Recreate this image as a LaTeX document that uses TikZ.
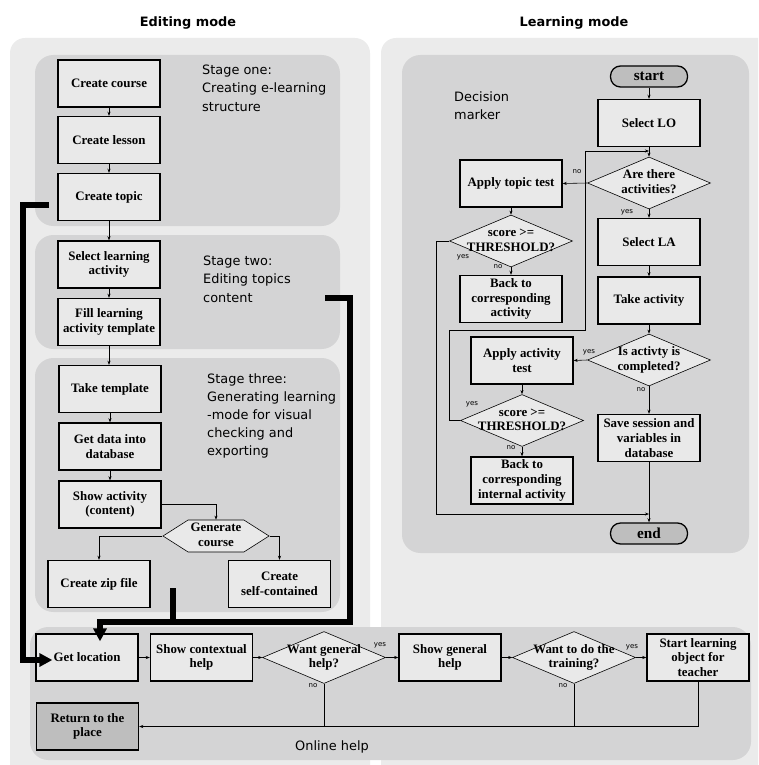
\documentclass[tikz,border=0pt]{standalone}
\usepackage{fontspec}
\setmainfont{Liberation Serif}
\newfontfamily\comicfont{DejaVu Sans}
\usetikzlibrary{shapes.geometric,shapes.symbols,arrows.meta,calc}

\definecolor{outergray}{RGB}{235,235,235}
\definecolor{innergray}{RGB}{212,212,213}
\definecolor{boxgray}{RGB}{233,233,233}
\definecolor{termgray}{RGB}{190,190,190}

% text of a decision that may run over the outline
\newcommand{\dtxt}[1]{\makebox[0pt]{\begin{tabular}{@{}c@{}}#1\end{tabular}}}

\begin{document}
\begin{tikzpicture}[x=0.03cm,y=-0.03cm]
\tikzstyle{process}=[draw, line width=1.1pt, fill=boxgray, minimum width=3.06cm, minimum height=1.41cm, inner sep=1pt, align=center, font=\fontsize{11}{12.5}\selectfont\bfseries]
\tikzstyle{returnbox}=[process, fill=termgray]
\tikzstyle{decision}=[draw, diamond, aspect=2.4, line width=0.5pt, fill=boxgray, minimum width=3.69cm, minimum height=1.56cm, inner sep=0pt, font=\fontsize{11}{12.5}\selectfont\bfseries]
\tikzstyle{hexa}=[draw, signal, signal to=west and east, signal pointer angle=65, line width=0.5pt, fill=boxgray, minimum width=3.18cm, minimum height=0.96cm, inner sep=0pt, font=\fontsize{11}{12.5}\selectfont\bfseries]
\tikzstyle{terminal}=[draw, line width=1.1pt, fill=termgray, rounded corners=0.3cm, minimum width=2.31cm, minimum height=0.63cm, inner sep=0pt, font=\fontsize{13}{14}\selectfont\bfseries]
\tikzstyle{arrow}=[line width=0.5pt, -{Stealth[length=3.5pt,width=2.6pt]}]
\tikzstyle{link}=[line width=0.5pt]
\tikzstyle{helpline}=[line width=5pt]
\tikzstyle{helparrow}=[line width=5pt, -{Triangle[length=11pt,width=11pt]}]
\tikzstyle{lbl}=[inner sep=0pt, font=\comicfont\fontsize{6}{7}\selectfont]
\tikzstyle{stagetext}=[anchor=north west, inner sep=0pt, align=left, font=\comicfont\fontsize{11}{15.5}\selectfont]
\tikzstyle{title}=[font=\comicfont\bfseries\fontsize{11}{13}\selectfont]

\useasboundingbox (0,0) rectangle (758,765);
\clip (0,0) rectangle (758,765);

% panels
\fill[outergray, rounded corners=0.45cm] (10,38) rectangle (370,800);
\fill[outergray, rounded corners=0.45cm] (381,38) rectangle (800,800);
\fill[innergray, rounded corners=0.55cm] (35,55) rectangle (340,226);
\fill[innergray, rounded corners=0.55cm] (35,235) rectangle (340,349);
\fill[innergray, rounded corners=0.55cm] (35,358) rectangle (340,612);
\fill[innergray, rounded corners=0.55cm] (402,55) rectangle (749,553);
\fill[innergray, rounded corners=0.55cm] (30,627) rectangle (751,760);

\draw (188,23) node[title] (edittitle) {Editing mode};
\draw (574,23) node[title] (learntitle) {Learning mode};

\draw (202,65) node[stagetext] (stage1) {Stage one:\\Creating e-learning\\structure};
\draw (203,256) node[stagetext] (stage2) {Stage two:\\Editing topics\\content};
\draw (207,373) node[stagetext] (stage3) {Stage three:\\Generating learning\\-mode for visual\\checking and\\exporting};
\draw (454,91) node[stagetext] (marker) {Decision\\marker};
\draw (332,747) node[stagetext, anchor=center] (online) {Online help};

% editing mode
\draw (109,83.5) node[process] (course) {Create course};
\draw (109,140) node[process] (lesson) {Create lesson};
\draw (109,197) node[process] (topic) {Create topic};
\draw (109,264.5) node[process] (selact) {Select learning\\activity};
\draw (109,322) node[process] (fill) {Fill learning\\activity template};
\draw (110,389) node[process] (take) {Take template};
\draw (110,446.5) node[process] (getdata) {Get data into\\database};
\draw (110,504.5) node[process] (show) {Show activity\\(content)};
\draw (216,536) node[hexa] (gen) {\dtxt{Generate\\course}};
\draw (99,584) node[process] (zip) {Create zip file};
\draw (279.5,584) node[process] (self) {Create\\self-contained};

\draw[arrow] (course) -- (lesson);
\draw[arrow] (lesson) -- (topic);
\draw[arrow] (topic) -- (selact);
\draw[arrow] (selact) -- (fill);
\draw[arrow] (fill.south) -- (fill.south |- take.north);
\draw[arrow] (take) -- (getdata);
\draw[arrow] (getdata) -- (show);
\draw[arrow] (show.east) -| (gen.north);
\draw[arrow] (gen.west) -| (zip.north);
\draw[arrow] (gen.east) -| (self.north);

% learning mode
\draw (649,76.5) node[terminal] (start) {start};
\draw (649,123) node[process] (sello) {Select LO};
\draw (649,183) node[decision] (arethere) {\dtxt{Are there\\activities?}};
\draw (511,183.5) node[process] (topictest) {Apply topic test};
\draw (511,241) node[decision] (thr1) {\dtxt{score >=\\THRESHOLD?}};
\draw (511,299) node[process] (backact) {Back to\\corresponding\\activity};
\draw (649,242) node[process] (sella) {Select LA};
\draw (649,300.5) node[process] (takeact) {Take activity};
\draw (649,360) node[decision] (completed) {\dtxt{Is activty is\\completed?}};
\draw (522,360.5) node[process] (acttest) {Apply activity\\test};
\draw (522,420.5) node[decision] (thr2) {\dtxt{score >=\\THRESHOLD?}};
\draw (522,480.5) node[process] (backint) {Back to\\corresponding\\internal activity};
\draw (649,438) node[process] (save) {Save session and\\variables in\\database};
\draw (649,533.5) node[terminal] (end) {end};

\coordinate (loopjoin) at (649,151);
\coordinate (endjoin) at (649,514);

\draw[arrow] (start) -- (sello);
\draw[arrow] (sello) -- (arethere);
\draw[arrow] (arethere.west) -- (topictest.east);
\draw[arrow] (arethere) -- (sella);
\draw[arrow] (topictest) -- (thr1);
\draw[arrow] (thr1) -- (backact);
\draw[arrow] (thr1.west) -- ++(-13,0) |- (endjoin);
\draw[arrow] (sella) -- (takeact);
\draw[arrow] (takeact) -- (completed);
\draw[arrow] (completed.west) -- (acttest.east);
\draw[arrow] (completed) -- (save);
\draw[arrow] (acttest) -- (thr2);
\draw[arrow] (thr2) -- (backint);
\draw[arrow] (thr2.west) -| (449,330) -| (585,151) -- (loopjoin);
\draw[arrow] (save) -- (end);

\draw (577,172) node[lbl] (no1) {no};
\draw (627,212) node[lbl] (yes1) {yes};
\draw (463,257) node[lbl] (yes2) {yes};
\draw (498,267) node[lbl] (no2) {no};
\draw (589,352) node[lbl] (yes3) {yes};
\draw (641,390) node[lbl] (no3) {no};
\draw (472,404) node[lbl] (yes4) {yes};
\draw (511,448) node[lbl] (no4) {no};

% online help
\draw (87,657.5) node[process] (getloc) {Get location};
\draw (201.5,657.5) node[process] (ctxhelp) {Show contextual\\help};
\draw (324,657.5) node[decision] (wantgen) {\dtxt{Want general\\help?}};
\draw (450,657.5) node[process] (genhelp) {Show general\\help};
\draw (574,657.5) node[decision] (training) {\dtxt{Want to do the\\training?}};
\draw (698,657.5) node[process] (startlo) {Start learning\\object for\\teacher};
\draw (87.5,726.5) node[returnbox] (ret) {Return to the\\place};

\draw[arrow] (getloc) -- (ctxhelp);
\draw[arrow] (ctxhelp) -- (wantgen);
\draw[arrow] (wantgen) -- (genhelp);
\draw[arrow] (genhelp) -- (training);
\draw[arrow] (training) -- (startlo);
\draw[arrow] (startlo.south) |- (ret.east);
\draw[link] (wantgen.south) -- (wantgen.south |- ret.east);
\draw[link] (training.south) -- (training.south |- ret.east);

\draw (380,645) node[lbl] (yes5) {yes};
\draw (313,686) node[lbl] (no5) {no};
\draw (632,647) node[lbl] (yes6) {yes};
\draw (563,686) node[lbl] (no6) {no};

% calls of the online help
\coordinate (help1) at (49,205);
\coordinate (help2) at (325,298);
\coordinate (help3) at (173,588);
\draw[helparrow] (help1) -- (23,205) |- ($(getloc.west)+(17,2.5)$);
\draw[helparrow] (help2) -| (350,622) -| ($(getloc.north)+(13,8)$);
\draw[helpline] (help3) -- (173,622);
\end{tikzpicture}
\end{document}
